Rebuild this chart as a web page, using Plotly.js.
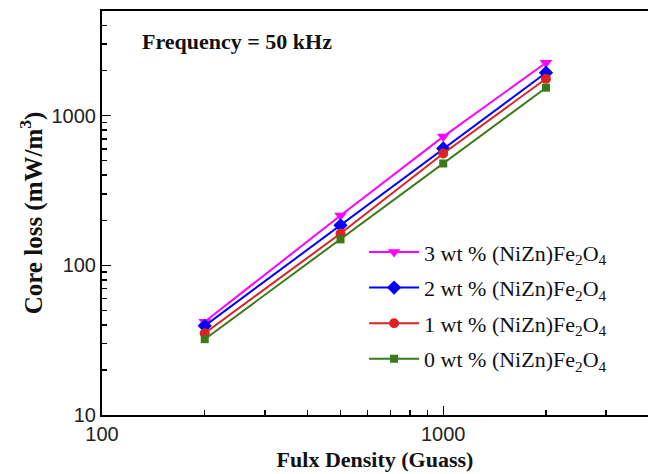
<!DOCTYPE html>
<html>
<head>
<meta charset="utf-8">
<script src="https://cdn.plot.ly/plotly-3.0.1.min.js"></script>
<style>html,body{margin:0;padding:0;background:#fff;}#chart{width:648px;height:474px;}</style>
</head>
<body>
<div id="chart"></div>
<script>
const fluxDensity = [200, 500, 1000, 2000];
const loss3wt = [42, 215, 724, 2256];
const loss2wt = [39.4, 185, 603, 1935];
const loss1wt = [35.2, 163, 558, 1765];
const loss0wt = [32.1, 149, 479, 1537];
const seriesNames = [
  '3 wt % (NiZn)Fe<sub>2</sub>O<sub>4</sub>',
  '2 wt % (NiZn)Fe<sub>2</sub>O<sub>4</sub>',
  '1 wt % (NiZn)Fe<sub>2</sub>O<sub>4</sub>',
  '0 wt % (NiZn)Fe<sub>2</sub>O<sub>4</sub>'
];
const xTickVals = [100, 1000];
const xTickText = ['100', '1000'];
const yTickVals = [10, 100, 1000];
const yTickText = ['10', '100', '1000'];

const styles = [
  {color: '#FF00FF', symbol: 'triangle-down', size: 11},
  {color: '#0000FF', symbol: 'diamond', size: 11},
  {color: '#DD2222', symbol: 'circle', size: 10},
  {color: '#3A7A1A', symbol: 'square', size: 8}
];
const ys = [loss3wt, loss2wt, loss1wt, loss0wt];
const traces = ys.map((y, i) => ({
  x: fluxDensity, y: y, name: seriesNames[i], legendgroup: 'g' + i,
  type: 'scatter', mode: 'lines+markers',
  line: {color: styles[i].color, width: 2},
  marker: {color: styles[i].color, symbol: styles[i].symbol, size: styles[i].size}
}));

const serif = 'Liberation Serif, Times New Roman, serif';
const sans = 'Liberation Sans, Arial, sans-serif';
const layout = {
  width: 648, height: 474,
  margin: {l: 102, r: 0, t: 11, b: 59},
  paper_bgcolor: '#fff', plot_bgcolor: '#fff',
  showlegend: true,
  legend: {x: 0.48, y: 0.455, xanchor: 'left', yanchor: 'top', bgcolor: 'rgba(0,0,0,0)',
    font: {family: serif, size: 22, color: '#111'},
    tracegroupgap: 4, itemwidth: 50},
  xaxis: {
    type: 'log', range: [2, 3.6], showgrid: false, zeroline: false,
    showline: true, linecolor: '#000', linewidth: 2, mirror: true,
    ticks: 'inside', ticklen: 9, tickwidth: 1.5, tickcolor: '#000',
    tickmode: 'array', tickvals: xTickVals, ticktext: xTickText,
    tickfont: {family: sans, size: 20, color: '#222'},
    minor: {ticks: 'inside', ticklen: 5, tickwidth: 1.5, tickcolor: '#000',
      tickmode: 'array', tickvals: [200,300,400,500,600,700,800,900,2000,3000]},
    title: {text: 'Fulx Density (Guass)', standoff: 8,
      font: {family: serif, size: 22, color: '#111', weight: 'bold'}}
  },
  yaxis: {
    type: 'log', range: [1, Math.log10(5000)], showgrid: false, zeroline: false,
    showline: true, linecolor: '#000', linewidth: 2, mirror: false,
    ticks: 'inside', ticklen: 9, tickwidth: 1.5, tickcolor: '#000',
    tickmode: 'array', tickvals: yTickVals, ticktext: yTickText,
    tickfont: {family: sans, size: 20, color: '#222'},
    minor: {ticks: 'inside', ticklen: 5, tickwidth: 1.5, tickcolor: '#000',
      tickmode: 'array', tickvals: [20,30,40,50,60,70,80,90,200,300,400,500,600,700,800,900,2000,3000,4000]},
    title: {text: 'Core loss (mW/m<sup>3</sup>)', standoff: 2,
      font: {family: serif, size: 25, color: '#111', weight: 'bold'}}
  },
  annotations: [{
    xref: 'paper', yref: 'paper', x: 0.07, y: 0.925, xanchor: 'left', yanchor: 'middle',
    text: '<b>Frequency = 50 kHz</b>', showarrow: false,
    font: {family: serif, size: 22, color: '#111'}
  }]
};
Plotly.newPlot('chart', traces, layout, {displayModeBar: false, staticPlot: true});
</script>
</body>
</html>
